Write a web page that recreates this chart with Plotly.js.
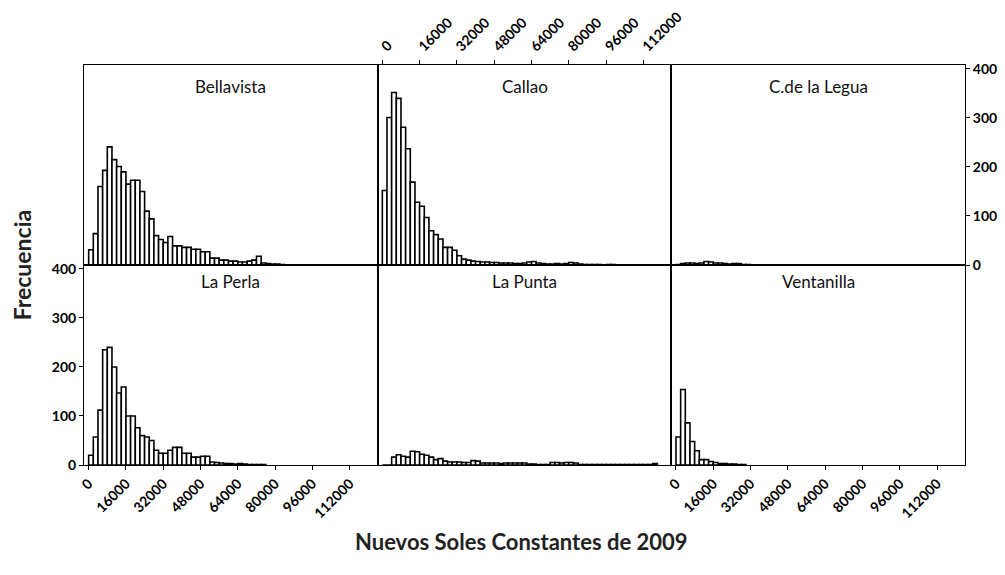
<!DOCTYPE html>
<html>
<head>
<meta charset="utf-8">
<script src="https://cdn.plot.ly/plotly-3.0.1.min.js"></script>
<style>
  html, body { margin: 0; padding: 0; background: #ffffff; }
  #chart { width: 1005px; height: 575px; }
</style>
</head>
<body>
<div id="chart"></div>
<script>
// ---- Data ----
const districts = ["Bellavista", "Callao", "C.de la Legua", "La Perla", "La Punta", "Ventanilla"];
const binWidth = 2000;   // Nuevos Soles per bin
const binStart = 0;

const bellavista = [31, 64, 160, 193, 241, 215, 201, 190, 165, 173,
                    173, 150, 110, 94, 60, 52, 46, 58, 39, 39,
                    36, 36, 32, 32, 27, 27, 14, 14, 10, 10,
                    8, 8, 6, 6, 8, 10, 18, 4, 3, 2, 2, 1];
const callao = [152, 301, 352, 340, 281, 237, 169, 128, 120, 97,
                70, 62, 53, 36, 36, 30, 19, 12, 10, 8,
                7, 6, 6, 5, 5, 4, 4, 4, 3, 3,
                4, 6, 7, 4, 3, 2, 2, 3, 2, 3,
                5, 4, 2, 1, 1, 1, 1, 0, 1, 1];
const cdelalegua = [1, 3, 4, 4, 3, 4, 7, 6, 4, 4, 3, 2, 3, 3, 1, 1];
const laperla = [20, 57, 112, 235, 240, 200, 147, 159, 100, 100,
                 76, 60, 57, 50, 30, 24, 24, 30, 36, 36,
                 24, 24, 16, 16, 18, 18, 6, 5, 4, 3,
                 3, 2, 3, 2, 1, 1, 1, 1];
const lapunta = [0, 0, 16, 21, 18, 16, 28, 27, 22, 20,
                 16, 11, 13, 8, 6, 6, 6, 5, 5, 9,
                 8, 4, 4, 4, 4, 3, 4, 4, 4, 4,
                 4, 2, 2, 1, 1, 1, 5, 5, 4, 5,
                 5, 4, 1, 1, 1, 1, 1, 1, 1, 1,
                 1, 1, 1, 1, 1, 1, 1, 1, 3];
const ventanilla = [57, 154, 86, 48, 29, 11, 11, 7, 5, 3, 3, 2, 2, 1, 1];

const seriesList = [bellavista, callao, cdelalegua, laperla, lapunta, ventanilla];

const xTickVals = [0, 16000, 32000, 48000, 64000, 80000, 96000, 112000];
const xTickText = ["0", "16000", "32000", "48000", "64000", "80000", "96000", "112000"];
const yTickVals = [0, 100, 200, 300, 400];
const yTickText = ["0", "100", "200", "300", "400"];

const xRange = [-2000, 124000];
const yRange = [0, 408];

// ---- Traces ----
const traces = seriesList.map((counts, k) => ({
  type: "bar",
  x: counts.map((_, i) => binStart + binWidth * (i + 0.5)),
  y: counts,
  width: binWidth,
  xaxis: "x" + (k === 0 ? "" : k + 1),
  yaxis: "y" + (k === 0 ? "" : k + 1),
  marker: { color: "#ffffff", line: { color: "#000000", width: 1.6 } },
  showlegend: false,
  hoverinfo: "x+y",
  name: districts[k]
}));

// ---- Layout ----
const colDomains = [[0, 1/3], [1/3, 2/3], [2/3, 1]];
const rowDomains = [[0.5, 1], [0, 0.5]];
const fam = "Lato, 'Open Sans', sans-serif";
const tickFont = { family: fam, size: 14, color: "#000", weight: "bold" };

function xAxis(k, opts) {
  const col = k % 3;
  return Object.assign({
    domain: colDomains[col],
    anchor: "y" + (k === 0 ? "" : k + 1),
    range: xRange,
    showline: true, mirror: true, linecolor: "#000", linewidth: 1,
    showgrid: false, zeroline: false,
    ticks: "", showticklabels: false,
    tickvals: xTickVals, ticktext: xTickText,
    tickangle: -45, tickfont: tickFont, ticklen: 4, tickcolor: "#000"
  }, opts || {});
}
function yAxis(k, opts) {
  const row = k < 3 ? 0 : 1;
  return Object.assign({
    domain: rowDomains[row],
    anchor: "x" + (k === 0 ? "" : k + 1),
    range: yRange,
    showline: true, mirror: true, linecolor: "#000", linewidth: 1,
    showgrid: false, zeroline: false,
    ticks: "", showticklabels: false,
    tickvals: yTickVals, ticktext: yTickText,
    tickfont: tickFont, ticklen: 4, tickcolor: "#000"
  }, opts || {});
}

const layout = {
  width: 1005, height: 575,
  margin: { l: 84, r: 40, t: 65, b: 110 },
  paper_bgcolor: "#ffffff", plot_bgcolor: "#ffffff",
  bargap: 0,
  showlegend: false,
  font: { family: fam, color: "#000" },
  xaxis: xAxis(0),
  xaxis2: xAxis(1, { side: "top", ticks: "outside", showticklabels: true }),
  xaxis3: xAxis(2),
  xaxis4: xAxis(3, { ticks: "outside", showticklabels: true }),
  xaxis5: xAxis(4),
  xaxis6: xAxis(5, { ticks: "outside", showticklabels: true }),
  yaxis: yAxis(0),
  yaxis2: yAxis(1),
  yaxis3: yAxis(2, { side: "right", ticks: "outside", showticklabels: true }),
  yaxis4: yAxis(3, { ticks: "outside", showticklabels: true }),
  yaxis5: yAxis(4),
  yaxis6: yAxis(5),
  annotations: []
};

const titleX = [1/6, 1/2, 5/6];
districts.forEach((name, k) => {
  layout.annotations.push({
    text: name, xref: "paper", yref: "paper",
    x: titleX[k % 3], y: k < 3 ? 0.946 : 0.458,
    xanchor: "center", yanchor: "middle", showarrow: false,
    font: { family: fam, size: 17, color: "#111" }
  });
});
layout.annotations.push({
  text: "Frecuencia", xref: "paper", yref: "paper",
  x: -0.07, y: 0.5, textangle: -90,
  xanchor: "center", yanchor: "middle", showarrow: false,
  font: { family: fam, size: 23, color: "#222", weight: "bold" }
});
layout.annotations.push({
  text: "Nuevos Soles Constantes de 2009", xref: "paper", yref: "paper",
  x: 0.497, y: -0.19,
  xanchor: "center", yanchor: "middle", showarrow: false,
  font: { family: fam, size: 22, color: "#222", weight: "bold" }
});

Plotly.newPlot("chart", traces, layout, { displayModeBar: false, staticPlot: true });
</script>
</body>
</html>
